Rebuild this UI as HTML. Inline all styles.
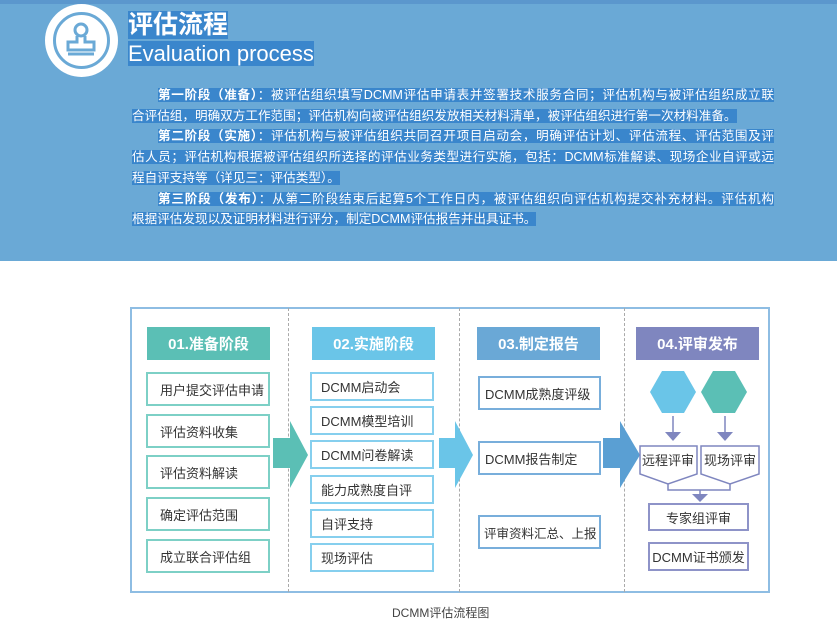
<!DOCTYPE html>
<html><head><meta charset="utf-8"><style>
*{margin:0;padding:0;box-sizing:border-box}
body{width:837px;height:644px;background:#fff;position:relative;overflow:hidden;font-family:"Liberation Sans","Noto Sans CJK SC",sans-serif}
.ban{position:absolute;left:0;top:0;width:837px;height:261px;background:#6aa9d6}
.strip{position:absolute;left:0;top:0;width:837px;height:4px;background:#5b97cd}
.p{position:absolute;left:132px;width:642px;font-size:12.6px;color:#fff;line-height:20.7px;top:85px}
.p div{text-align:justify;text-align-last:justify;white-space:nowrap;overflow:hidden}
.p div.l{text-align-last:left}
.p span{background:#3a86cc}
.p b{background:#3a86cc}
.a{position:absolute}
.box{position:absolute;background:#fff;font-size:13px;color:#333;display:flex;align-items:center;white-space:nowrap}
.hd{position:absolute;color:#fff;font-weight:bold;font-size:15px;display:flex;align-items:center;justify-content:center;height:33px}
.t1{border:2px solid #7dd0c6;padding-left:12px;height:34px}
.t2{border:2px solid #86cfee;padding-left:9px;height:29px}
.t3{border:2px solid #78aedb;padding-left:5px;height:34px}
.t4{border:2px solid #8e93c8;justify-content:center}
.dash{position:absolute;top:308px;height:284px;border-left:1px dashed #aaa}
</style></head><body>
<div class="ban"></div><div class="strip"></div>
<div class="a" style="left:45px;top:4px;width:73px;height:73px;border-radius:50%;background:#fff"></div>
<div class="a" style="left:53px;top:12px;width:57px;height:57px;border-radius:50%;border:3px solid #6aa9d6"></div>
<svg class="a" style="left:57px;top:16px" width="48" height="48" viewBox="0 0 48 48"><g fill="none" stroke="#6aa9d6" stroke-width="3"><circle cx="24" cy="14" r="6"/><path d="M20 20 v6 h-9 v8 h26 v-8 h-9 v-6"/><line x1="11" y1="38" x2="37" y2="38"/></g></svg>
<div class="a" style="left:128px;top:10px;font-size:25px;font-weight:bold;color:#fff;line-height:30px"><span style="background:#3a86cc">评估流程</span></div>
<div class="a" style="left:128px;top:41px;font-size:22px;color:#fff;line-height:26px"><span style="background:#3a86cc">Evaluation process</span></div>
<div class="p">
<div style="padding-left:26px"><b>第一阶段（准备）</b><span>：被评估组织填写DCMM评估申请表并签署技术服务合同；评估机构与被评估组织成立联</span></div>
<div class="l"><span>合评估组，明确双方工作范围；评估机构向被评估组织发放相关材料清单，被评估组织进行第一次材料准备。</span></div>
<div style="padding-left:26px"><b>第二阶段（实施）</b><span>：评估机构与被评估组织共同召开项目启动会，明确评估计划、评估流程、评估范围及评</span></div>
<div><span>估人员；评估机构根据被评估组织所选择的评估业务类型进行实施，包括：DCMM标准解读、现场企业自评或远</span></div>
<div class="l"><span>程自评支持等（详见三：评估类型）。</span></div>
<div style="padding-left:26px"><b>第三阶段（发布）</b><span>：从第二阶段结束后起算5个工作日内，被评估组织向评估机构提交补充材料。评估机构</span></div>
<div class="l"><span>根据评估发现以及证明材料进行评分，制定DCMM评估报告并出具证书。</span></div>
</div>

<div class="a" style="left:130px;top:307px;width:640px;height:286px;border:2px solid #8ebde3"></div>
<div class="dash" style="left:288px"></div><div class="dash" style="left:459px"></div><div class="dash" style="left:624px"></div>

<div class="hd" style="left:147px;top:327px;width:123px;background:#5bbfb5">01.准备阶段</div>
<div class="hd" style="left:312px;top:327px;width:123px;background:#6ac5e8">02.实施阶段</div>
<div class="hd" style="left:477px;top:327px;width:123px;background:#6aa8d6">03.制定报告</div>
<div class="hd" style="left:636px;top:327px;width:123px;background:#7f86bf">04.评审发布</div>

<div class="box t1" style="left:146px;top:372px;width:124px">用户提交评估申请</div>
<div class="box t1" style="left:146px;top:414px;width:124px">评估资料收集</div>
<div class="box t1" style="left:146px;top:455px;width:124px">评估资料解读</div>
<div class="box t1" style="left:146px;top:497px;width:124px">确定评估范围</div>
<div class="box t1" style="left:146px;top:539px;width:124px">成立联合评估组</div>

<div class="box t2" style="left:310px;top:372px;width:124px">DCMM启动会</div>
<div class="box t2" style="left:310px;top:406px;width:124px">DCMM模型培训</div>
<div class="box t2" style="left:310px;top:440px;width:124px">DCMM问卷解读</div>
<div class="box t2" style="left:310px;top:475px;width:124px">能力成熟度自评</div>
<div class="box t2" style="left:310px;top:509px;width:124px">自评支持</div>
<div class="box t2" style="left:310px;top:543px;width:124px">现场评估</div>

<div class="box t3" style="left:478px;top:376px;width:123px">DCMM成熟度评级</div>
<div class="box t3" style="left:478px;top:441px;width:123px">DCMM报告制定</div>
<div class="box t3" style="left:478px;top:515px;width:123px;font-size:12.5px;padding-left:4px">评审资料汇总、上报</div>

<svg class="a" style="left:0;top:0" width="837" height="644">
<polygon points="273,438 290,438 290,421 308,455 290,488 290,468 273,468" fill="#5bbfb5"/>
<polygon points="439,438 455,438 455,421 473,455 455,488 455,468 439,468" fill="#6ac5e8"/>
<polygon points="603,438 620,438 620,421 640,455 620,488 620,468 603,468" fill="#5a9fd3"/>
<polygon points="650,392 662,371 684,371 696,392 684,413 662,413" fill="#6ac5e8"/>
<polygon points="701,392 713,371 735,371 747,392 735,413 713,413" fill="#5bbfb5"/>
<g stroke="#7f86bf" stroke-width="1.5" fill="none">
<line x1="673" y1="416" x2="673" y2="432"/><line x1="725" y1="416" x2="725" y2="432"/>
<polygon points="640,446 697,446 697,474 668,484 640,474" fill="#fff"/>
<polygon points="701,446 759,446 759,474 730,484 701,474" fill="#fff"/>
<polyline points="668,484 668,490 730,490 730,484"/><line x1="700" y1="490" x2="700" y2="494"/>
</g>
<g fill="#7f86bf"><polygon points="665,432 681,432 673,441"/><polygon points="717,432 733,432 725,441"/><polygon points="692,494 708,494 700,502"/></g>
<text x="668" y="465" font-size="13" fill="#333" text-anchor="middle" font-family="Liberation Sans,Noto Sans CJK SC,sans-serif">远程评审</text>
<text x="730" y="465" font-size="13" fill="#333" text-anchor="middle" font-family="Liberation Sans,Noto Sans CJK SC,sans-serif">现场评审</text>
</svg>
<div class="box t4" style="left:648px;top:503px;width:101px;height:28px">专家组评审</div>
<div class="box t4" style="left:648px;top:542px;width:101px;height:29px">DCMM证书颁发</div>
<div class="a" style="left:392px;top:604px;font-size:12px;color:#444">DCMM评估流程图</div>
</body></html>
